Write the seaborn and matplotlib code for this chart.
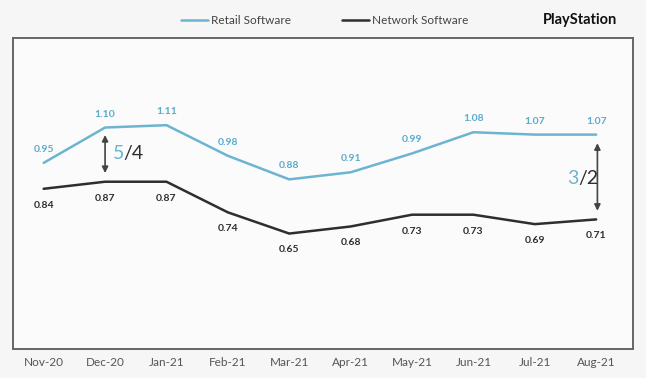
import matplotlib
matplotlib.use("Agg")
import matplotlib.pyplot as plt
import seaborn as sns
import pandas as pd

months = ["Nov-20", "Dec-20", "Jan-21", "Feb-21", "Mar-21", "Apr-21",
          "May-21", "Jun-21", "Jul-21", "Aug-21"]
retail = [0.95, 1.10, 1.11, 0.98, 0.88, 0.91, 0.99, 1.08, 1.07, 1.07]
network = [0.84, 0.87, 0.87, 0.74, 0.65, 0.68, 0.73, 0.73, 0.69, 0.71]

sns.set_theme(style="white")
plt.rcParams['font.family'] = ['Lato', 'DejaVu Sans']

BLUE = "#6cb4d0"
DARK = "#2e2e2e"

df = pd.DataFrame({"x": list(range(len(months))) * 2,
                   "value": retail + network,
                   "series": ["Retail Software"] * len(months) + ["Network Software"] * len(months)})

fig = plt.figure(figsize=(6.46, 3.78), dpi=100)
fig.patch.set_facecolor("#f6f6f6")
ax = fig.add_axes([13/646, 1 - 349/378, 620/646, 311/378])
ax.set_facecolor("#fbfbfb")

sns.lineplot(data=df, x="x", y="value", hue="series",
             palette={"Retail Software": BLUE, "Network Software": DARK},
             linewidth=1.8, ax=ax, legend=False)

for i, v in enumerate(retail):
    ax.annotate(f"{v:.2f}", (i, v), xytext=(0, 6.5), textcoords="offset points",
                ha="center", va="bottom", fontsize=7.5, color="#5aabcb", fontweight="bold")
for i, v in enumerate(network):
    ax.annotate(f"{v:.2f}", (i, v), xytext=(0, -8.5), textcoords="offset points",
                ha="center", va="top", fontsize=7.5, color=DARK, fontweight="bold")

ax.set_xlim(-0.5, 9.6)
ax.set_ylim(0.16, 1.48)
ax.set_xticks(range(len(months)))
ax.set_xticklabels(months, fontsize=8.5, color="#555555")
ax.tick_params(axis="x", length=0, pad=6)
ax.set_yticks([])
ax.set_xlabel("")
ax.set_ylabel("")
for s in ax.spines.values():
    s.set_color("#666666")
    s.set_linewidth(1.4)

# ratio arrows
arrow_kw = dict(arrowstyle="<|-|>", color="#444444", lw=1.2, mutation_scale=9)
ax.annotate("", xy=(1, 1.08), xytext=(1, 0.895), arrowprops=arrow_kw)
t1 = ax.text(1.12, 0.99, "5", color=BLUE, fontsize=14, ha="left", va="center")
ax.annotate("/4", xy=(1.0, 0.5), xycoords=t1, color=DARK, fontsize=14,
            ha="left", va="center")

ax.annotate("", xy=(9.02, 1.045), xytext=(9.02, 0.735), arrowprops=arrow_kw)
t2 = ax.text(8.53, 0.885, "3", color=BLUE, fontsize=14, ha="left", va="center")
ax.annotate("/2", xy=(1.0, 0.5), xycoords=t2, color=DARK, fontsize=14,
            ha="left", va="center")

# legend
fig.add_artist(plt.Line2D([181/646, 208/646], [1 - 20/378] * 2, color=BLUE, lw=1.8))
fig.text(211/646, 1 - 20/378, "Retail Software", fontsize=8.5, color="#444444", va="center")
fig.add_artist(plt.Line2D([342/646, 369/646], [1 - 20/378] * 2, color=DARK, lw=1.8))
fig.text(372/646, 1 - 20/378, "Network Software", fontsize=8.5, color="#444444", va="center")
fig.text(617/646, 1 - 20/378, "PlayStation", fontsize=10.5, color="#111111",
         va="center", ha="right", fontweight="bold")

fig.savefig("out.png", dpi=100, facecolor=fig.get_facecolor())
